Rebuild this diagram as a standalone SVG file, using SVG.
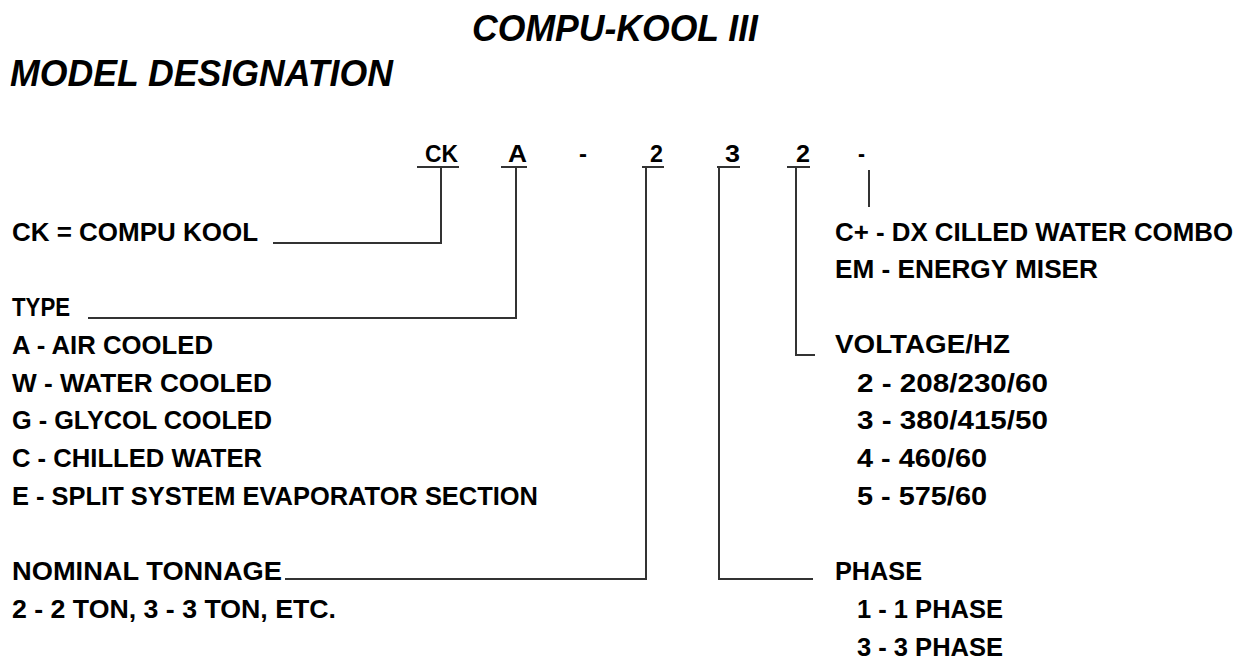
<svg xmlns="http://www.w3.org/2000/svg" width="1245" height="660" viewBox="0 0 1245 660">
<style>
.t{font-family:"Liberation Sans",Arial,sans-serif;font-weight:bold;font-size:25px;fill:#000}
.c{font-family:"Liberation Sans",Arial,sans-serif;font-weight:bold;font-size:24px;fill:#000}
.h{font-family:"Liberation Sans",Arial,sans-serif;font-weight:bold;font-style:italic;font-size:36px;fill:#000}
.ln{fill:none;stroke:#333;stroke-width:2}
</style>
<rect width="1245" height="660" fill="#fff"/>
<g id="titles">
<text class="h" x="472" y="41" textLength="286" lengthAdjust="spacingAndGlyphs">COMPU-KOOL III</text>
<text class="h" x="10" y="86" textLength="383" lengthAdjust="spacingAndGlyphs">MODEL DESIGNATION</text>
</g>
<g id="code">
<text class="c" x="425" y="162" textLength="33" lengthAdjust="spacingAndGlyphs">CK</text>
<text class="c" x="508" y="162" textLength="19" lengthAdjust="spacingAndGlyphs">A</text>
<text class="c" x="579" y="162" textLength="8" lengthAdjust="spacingAndGlyphs">-</text>
<text class="c" x="650" y="162" textLength="13" lengthAdjust="spacingAndGlyphs">2</text>
<text class="c" x="725" y="162" textLength="15" lengthAdjust="spacingAndGlyphs">3</text>
<text class="c" x="796" y="162" textLength="14" lengthAdjust="spacingAndGlyphs">2</text>
<text class="c" x="858" y="162" textLength="7" lengthAdjust="spacingAndGlyphs">-</text>
</g>
<g id="connectors">
<path class="ln" d="M417,167H459M441,167V243H273"/>
<path class="ln" d="M501,167H527M516,167V318H88"/>
<path class="ln" d="M642,167H664M646,167V579H285"/>
<path class="ln" d="M717,167H740M719,167V579H813"/>
<path class="ln" d="M787,167H810M796,167V355H815"/>
<path class="ln" d="M869,170V207"/>
</g>
<g id="node-ck">
<text class="t" x="12" y="241" textLength="246" lengthAdjust="spacingAndGlyphs">CK = COMPU KOOL</text>
</g>
<g id="node-type">
<text class="t" x="12" y="316" textLength="58" lengthAdjust="spacingAndGlyphs">TYPE</text>
<text class="t" x="12" y="354" textLength="201" lengthAdjust="spacingAndGlyphs">A - AIR COOLED</text>
<text class="t" x="12" y="392" textLength="260" lengthAdjust="spacingAndGlyphs">W - WATER COOLED</text>
<text class="t" x="12" y="429" textLength="260" lengthAdjust="spacingAndGlyphs">G - GLYCOL COOLED</text>
<text class="t" x="12" y="467" textLength="250" lengthAdjust="spacingAndGlyphs">C - CHILLED WATER</text>
<text class="t" x="12" y="505" textLength="526" lengthAdjust="spacingAndGlyphs">E - SPLIT SYSTEM EVAPORATOR SECTION</text>
</g>
<g id="node-tonnage">
<text class="t" x="12" y="580" textLength="270" lengthAdjust="spacingAndGlyphs">NOMINAL TONNAGE</text>
<text class="t" x="12" y="618" textLength="324" lengthAdjust="spacingAndGlyphs">2 - 2 TON, 3 - 3 TON, ETC.</text>
</g>
<g id="node-option">
<text class="t" x="835" y="241" textLength="398" lengthAdjust="spacingAndGlyphs">C+ - DX CILLED WATER COMBO</text>
<text class="t" x="835" y="278" textLength="263" lengthAdjust="spacingAndGlyphs">EM - ENERGY MISER</text>
</g>
<g id="node-voltage">
<text class="t" x="835" y="353" textLength="175" lengthAdjust="spacingAndGlyphs">VOLTAGE/HZ</text>
<text class="t" x="857" y="392" textLength="191" lengthAdjust="spacingAndGlyphs">2 - 208/230/60</text>
<text class="t" x="857" y="429" textLength="191" lengthAdjust="spacingAndGlyphs">3 - 380/415/50</text>
<text class="t" x="857" y="467" textLength="130" lengthAdjust="spacingAndGlyphs">4 - 460/60</text>
<text class="t" x="857" y="505" textLength="130" lengthAdjust="spacingAndGlyphs">5 - 575/60</text>
</g>
<g id="node-phase">
<text class="t" x="835" y="580" textLength="87" lengthAdjust="spacingAndGlyphs">PHASE</text>
<text class="t" x="857" y="618" textLength="146" lengthAdjust="spacingAndGlyphs">1 - 1 PHASE</text>
<text class="t" x="857" y="656" textLength="146" lengthAdjust="spacingAndGlyphs">3 - 3 PHASE</text>
</g>
</svg>
